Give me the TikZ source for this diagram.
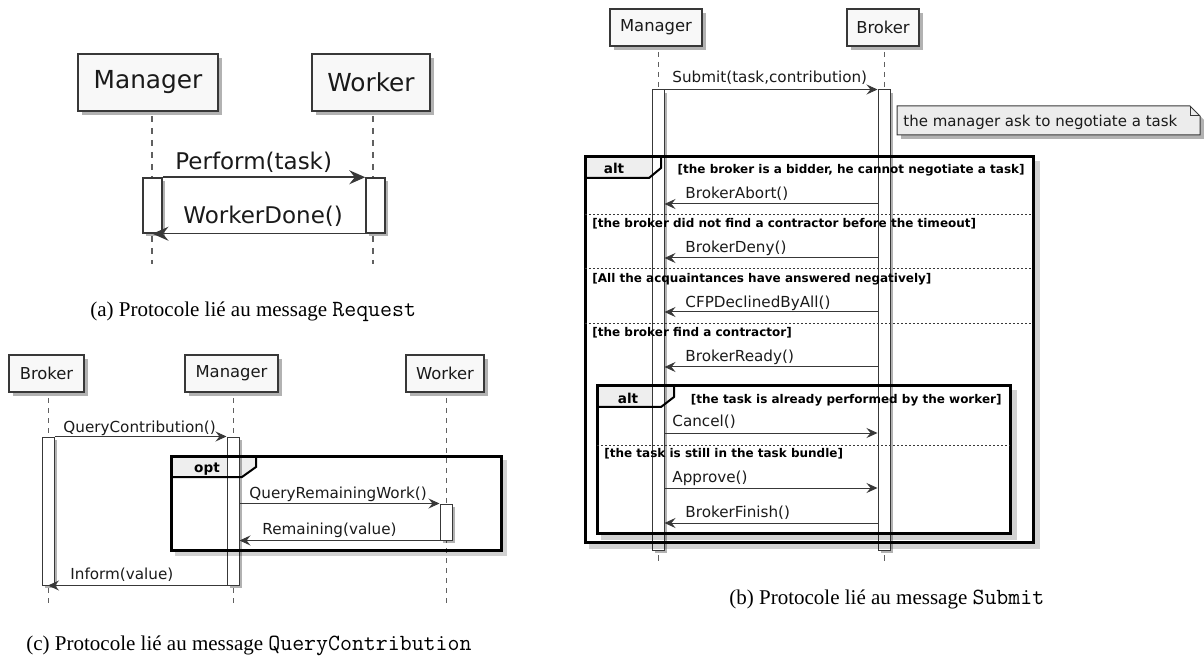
\documentclass[tikz,border=0pt]{standalone}
\usepackage{fontspec}
\setmainfont{Liberation Serif}
\newfontfamily\umlfont{DejaVu Sans}
\newcommand\capmono[1]{{\ttfamily\fontsize{11.6}{12}\selectfont #1}}
\usetikzlibrary{arrows.meta,shadows,fit}
\definecolor{umlline}{HTML}{383838}
\definecolor{umltext}{HTML}{1A1A1A}
\definecolor{boxfill}{HTML}{F8F8F8}
\definecolor{tabfill}{HTML}{EEEEEE}
\definecolor{notefill}{HTML}{ECECEC}
\begin{document}
\begin{tikzpicture}[x=0.5pt,y=-0.5pt,
  part/.style={draw=umlline, fill=boxfill, line width=0.75pt, inner sep=0pt, text=umltext,
    drop shadow={shadow xshift=2pt,shadow yshift=-2pt,opacity=.3,fill=black}},
  partA/.style={part, line width=1pt, font=\umlfont\fontsize{12.4}{14}\selectfont},
  partB/.style={part, font=\umlfont\fontsize{8.2}{10}\selectfont},
  bar/.style={draw=umlline, fill=white, line width=0.5pt, inner sep=0pt,
    drop shadow={shadow xshift=1.5pt,shadow yshift=-1.5pt,opacity=.3,fill=black}},
  barA/.style={bar, line width=0.75pt},
  life/.style={draw=umlline!80, line width=0.5pt, dash pattern=on 2.5pt off 2.5pt},
  lifeA/.style={draw=umlline!80, line width=0.75pt, dash pattern=on 3pt off 3pt},
  msg/.style={draw=umlline, line width=0.5pt, -{Stealth[length=5.5pt,width=5pt,inset=2pt]}},
  msgA/.style={draw=umlline, line width=0.75pt, -{Stealth[length=8pt,width=7pt,inset=2.8pt]}},
  mlab/.style={font=\umlfont\fontsize{7.6}{9}\selectfont, text=umltext, inner sep=0pt, anchor=base west},
  mlabA/.style={font=\umlfont\fontsize{11.5}{13}\selectfont, text=umltext, inner sep=0pt, anchor=base west},
  guard/.style={font=\umlfont\bfseries\fontsize{6}{7}\selectfont, text=black, inner sep=0pt, anchor=base west},
  guardR/.style={guard, anchor=base east},
  tablab/.style={font=\umlfont\bfseries\fontsize{6.8}{8}\selectfont, text=black, inner sep=0pt, anchor=base},
  frame/.style={draw=black, line width=1.5pt},
  fshadow/.style={draw=black, opacity=.18, line width=2.5pt},
  sep/.style={draw=umlline, line width=0.5pt, dash pattern=on 1pt off 1pt},
  tabshape/.style={fill=tabfill, draw=black, line width=1pt},
  notestyle/.style={draw=umlline, fill=notefill, line width=0.5pt,
    drop shadow={shadow xshift=2pt,shadow yshift=-2pt,opacity=.3,fill=black}},
  notelab/.style={font=\umlfont\fontsize{7.5}{9}\selectfont, text=umltext, inner sep=0pt, anchor=base west},
  capt/.style={font=\fontsize{10.5}{12}\selectfont, inner sep=0pt, anchor=base west}
]
\useasboundingbox (0,0) rectangle (1204,657);

% ================= (a) =================
\draw[lifeA] (152,116) -- (152,264);
\draw[lifeA] (373,116) -- (373,264);
\node[partA, fit={(78,54) (218,111)}] (aMan) {};
\node[font=\umlfont\fontsize{12.4}{14}\selectfont, text=umltext] (aManT) at (aMan.center) {Manager};
\node[partA, fit={(312,54) (430,111)}] (aWor) {};
\node[font=\umlfont\fontsize{12.4}{14}\selectfont, text=umltext] (aWorT) at (aWor.center) {Worker};
\node[barA, fit={(143,178) (162,233)}] (aMbar) {};
\node[barA, fit={(366,178) (385,233)}] (aWbar) {};
\draw[msgA] (aMbar.north east) -- (aWbar.north west);
\draw[msgA] (aWbar.south west) -- (aMbar.south);
\node[mlabA] (aL1) at (175,170) {Perform(task)};
\node[mlabA] (aL2) at (183,224) {WorkerDone()};
\node[capt] (capA) at (90,317) {(a) Protocole lié au message \capmono{Request}};

% ================= (c) =================
\draw[life] (48,398) -- (48,606);
\draw[life] (233,398) -- (233,606);
\draw[life] (446,398) -- (446,606);
\node[partB, fit={(9,355) (84,392)}] (cBro) {};
\node[font=\umlfont\fontsize{8.2}{10}\selectfont, text=umltext] (cBroT) at (cBro.center) {Broker};
\node[partB, fit={(185,355) (278,392)}] (cMan) {};
\node[font=\umlfont\fontsize{8.2}{10}\selectfont, text=umltext] (cManT) at (cMan.center) {Manager};
\node[partB, fit={(406,355) (484,392)}] (cWor) {};
\node[font=\umlfont\fontsize{8.2}{10}\selectfont, text=umltext] (cWorT) at (cWor.center) {Worker};
% opt tab fill
\fill[tabfill] (171,456) -- (256,456) -- (256,467) -- (242,477) -- (171,477) -- cycle;
\node[bar, fit={(42,437) (54,585)}] (cBbar) {};
\node[bar, fit={(227,437) (239,585)}] (cMbar) {};
\node[bar, fit={(440,504) (452,540)}] (cWbar) {};
% opt frame
\draw[fshadow] (175,553) -- (504,553) -- (504,460);
\draw[frame] (171,456) rectangle (501,550);
\draw[tabshape, fill=none] (256,456) -- (256,467) -- (242,477) -- (171,477);
\node[tablab] (cOpt) at (207,472) {opt};
\draw[msg] (cBbar.north east) -- (cMbar.north west);
\draw[msg] (cMbar.east |- cWbar.north) -- (cWbar.north west);
\draw[msg] (cWbar.south west) -- (cMbar.east |- cWbar.south);
\draw[msg] (cMbar.south west) -- (cBbar.south);
\node[mlab] (cL1) at (63,432) {QueryContribution()};
\node[mlab] (cL2) at (249,498) {QueryRemainingWork()};
\node[mlab] (cL3) at (262,534) {Remaining(value)};
\node[mlab] (cL4) at (70,579) {Inform(value)};
\node[capt] (capC) at (26,650) {(c) Protocole lié au message \capmono{QueryContribution}};

% ================= (b) =================
\draw[life] (658,52) -- (658,90);
\draw[life] (884,52) -- (884,90);
\draw[umlline!80, line width=0.5pt] (658,555) -- (658,561);
\draw[umlline!80, line width=0.5pt] (884,555) -- (884,561);
\node[partB, fit={(610,9) (702,46)}] (bMan) {};
\node[font=\umlfont\fontsize{8.2}{10}\selectfont, text=umltext] (bManT) at (bMan.center) {Manager};
\node[partB, fit={(847,9) (919,46)}] (bBro) {};
\node[font=\umlfont\fontsize{8.2}{10}\selectfont, text=umltext] (bBroT) at (bBro.center) {Broker};
% tab fills
\fill[tabfill] (585,157) -- (661,157) -- (661,168) -- (649,178) -- (585,178) -- cycle;
\fill[tabfill] (597,386) -- (674,386) -- (674,397) -- (661,407) -- (597,407) -- cycle;
\node[bar, fit={(652,90) (664,550)}] (bMbar) {};
\node[bar, fit={(878,90) (890,550)}] (bBbar) {};
% note
\draw[notestyle] (897,106) -- (1190,106) -- (1200,116) -- (1200,135) -- (897,135) -- cycle;
\draw[umlline, line width=0.5pt] (1190,106) -- (1190,116) -- (1200,116);
\node[notelab] (bNote) at (903,127) {the manager ask to negotiate a task};
% outer alt frame
\draw[fshadow] (589,546) -- (1037,546) -- (1037,161);
\draw[frame] (585,157) rectangle (1033,542);
\draw[tabshape, fill=none] (661,157) -- (661,168) -- (649,178) -- (585,178);
\node[tablab] (bAlt1) at (614,174) {alt};
\draw[sep] (585,215) -- (1033,215);
\draw[sep] (585,269) -- (1033,269);
\draw[sep] (585,324) -- (1033,324);
% inner alt frame
\draw[fshadow] (601,537) -- (1014,537) -- (1014,390);
\draw[frame] (597,386) rectangle (1010,533);
\draw[tabshape, fill=none] (674,386) -- (674,397) -- (661,407) -- (597,407);
\node[tablab] (bAlt2) at (628,403) {alt};
\draw[sep] (597,445) -- (1010,445);
% messages
\coordinate (yAbort) at (0,204);
\coordinate (yDeny) at (0,258);
\coordinate (yCFP) at (0,312);
\coordinate (yReady) at (0,367);
\coordinate (yCancel) at (0,433);
\coordinate (yApprove) at (0,488);
\coordinate (yFinish) at (0,523);
\draw[msg] (bMbar.north east) -- (bBbar.north west);
\draw[msg] (bBbar.west |- yAbort) -- (bMbar.east |- yAbort);
\draw[msg] (bBbar.west |- yDeny) -- (bMbar.east |- yDeny);
\draw[msg] (bBbar.west |- yCFP) -- (bMbar.east |- yCFP);
\draw[msg] (bBbar.west |- yReady) -- (bMbar.east |- yReady);
\draw[msg] (bMbar.east |- yCancel) -- (bBbar.west |- yCancel);
\draw[msg] (bMbar.east |- yApprove) -- (bBbar.west |- yApprove);
\draw[msg] (bBbar.west |- yFinish) -- (bMbar.east |- yFinish);
\node[mlab] (bL0) at (672,83) {Submit(task,contribution)};
\node[mlab] (bL1) at (685,199) {BrokerAbort()};
\node[mlab] (bL2) at (685,253) {BrokerDeny()};
\node[mlab] (bL3) at (685,308) {CFPDeclinedByAll()};
\node[mlab] (bL4) at (685,362) {BrokerReady()};
\node[mlab] (bL5) at (672,427) {Cancel()};
\node[mlab] (bL6) at (672,482) {Approve()};
\node[mlab] (bL7) at (685,517) {BrokerFinish()};
\node[guardR] (bG1) at (1025,174) {[the broker is a bidder, he cannot negotiate a task]};
\node[guard] (bG2) at (592,228) {[the broker did not find a contractor before the timeout]};
\node[guard] (bG3) at (592,283) {[All the acquaintances have answered negatively]};
\node[guard] (bG4) at (592,337) {[the broker find a contractor]};
\node[guardR] (bG5) at (1002,403) {[the task is already performed by the worker]};
\node[guard] (bG6) at (604,457) {[the task is still in the task bundle]};
\node[capt] (capB) at (729,604) {(b) Protocole lié au message \capmono{Submit}};
\end{tikzpicture}
\end{document}
